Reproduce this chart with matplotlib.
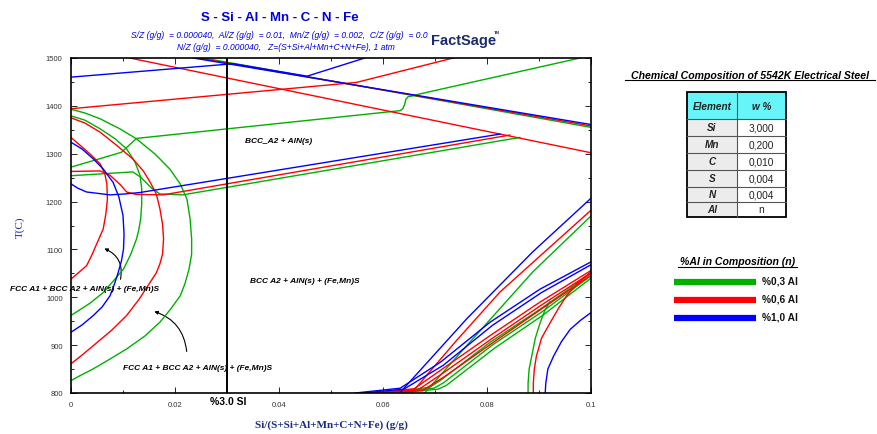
import matplotlib.pyplot as plt
from matplotlib.patches import Rectangle, FancyArrowPatch
from matplotlib.ticker import MultipleLocator, FixedLocator, FixedFormatter

plt.rcParams['font.family'] = ['Liberation Sans', 'DejaVu Sans']

GREEN, RED, BLUE = '#00b000', '#ff0000', '#0000ff'
NAVY = '#1a2a86'

# ---- 0.3 % Al (green): x = Si mass fraction, t = temperature (C) ----
g_top_x = [0.0255, 0.1]
g_top_t = [1500, 1355]
g_arc_outer_x = [0, 0.0027, 0.0056, 0.0094, 0.0126, 0.0162, 0.0190, 0.0210, 0.0223, 0.0229, 0.0232,
                 0.0232, 0.0227, 0.0219, 0.0210, 0.0192, 0.0171, 0.0142, 0.0107, 0.0075, 0.0042, 0.0017, 0]
g_arc_outer_t = [1393, 1385, 1373, 1352, 1331, 1299, 1268, 1237, 1205, 1164, 1122,
                 1090, 1059, 1028, 1003, 976, 948, 919, 892, 871, 850, 836, 826]
g_arc_inner_x = [0, 0.0027, 0.0056, 0.0085, 0.0107, 0.0123, 0.0133, 0.0136, 0.0136, 0.0134, 0.0130,
                 0.0126, 0.0115, 0.0101, 0.0083, 0.0062, 0.0037, 0]
g_arc_inner_t = [1379, 1370, 1352, 1331, 1310, 1283, 1254, 1226, 1195, 1164, 1139,
                 1122, 1090, 1059, 1036, 1010, 988, 962]
g_rise_x = [0, 0.0063, 0.0097, 0.0107, 0.0117, 0.0126, 0.0633, 0.0638, 0.0642, 0.0644, 0.0648,
            0.0658, 0.0671, 0.0979]
g_rise_t = [1272, 1292, 1303, 1313, 1323, 1332, 1390, 1394, 1404, 1414, 1419,
            1421, 1425, 1500]
g_low_x = [0, 0.0119, 0.0135, 0.0155, 0.0171, 0.0215, 0.0863]
g_low_t = [1254, 1262, 1250, 1228, 1216, 1214, 1334]
g_band1_x = [0.0604, 0.0690, 0.0710, 0.0806, 0.0902, 0.1]
g_band1_t = [800, 812, 826, 906, 975, 1050]
g_band2_x = [0.0614, 0.0698, 0.0716, 0.0810, 0.0905, 0.1]
g_band2_t = [800, 810, 821, 900, 969, 1045]
g_band3_x = [0.0624, 0.0706, 0.0722, 0.0815, 0.0908, 0.1]
g_band3_t = [800, 808, 816, 894, 963, 1040]
g_upper_x = [0.0680, 0.0761, 0.0888, 0.1]
g_upper_t = [800, 899, 1053, 1170]
g_corner_x = [0.0879, 0.0879, 0.0881, 0.0886, 0.0893, 0.0902, 0.0911, 0.0921]
g_corner_t = [800, 820, 850, 877, 915, 946, 972, 991]

# ---- 0.6 % Al (red) ----
r_top_x = [0.0245, 0.1]
r_top_t = [1500, 1358]
r_rise_x = [0, 0.0549, 0.0735]
r_rise_t = [1394, 1449, 1500]
r_fall_x = [0.0113, 0.1]
r_fall_t = [1500, 1302]
r_arc_outer_x = [0, 0.0027, 0.0056, 0.0085, 0.0119, 0.0139, 0.0152, 0.0164, 0.0171, 0.0176, 0.0178,
                 0.0176, 0.0171, 0.0164, 0.0152, 0.0131, 0.0107, 0.0079, 0.0043, 0.0021, 0]
r_arc_outer_t = [1375, 1364, 1345, 1320, 1289, 1264, 1241, 1216, 1185, 1153, 1122,
                 1090, 1070, 1051, 1031, 996, 962, 932, 899, 879, 861]
r_arc_inner_x = [0, 0.0017, 0.0037, 0.0056, 0.0065, 0.0069, 0.0070, 0.0067, 0.0062, 0.0052, 0.0040,
                 0.0030, 0.0014, 0]
r_arc_inner_t = [1334, 1318, 1299, 1279, 1258, 1237, 1205, 1174, 1143, 1118, 1088,
                 1066, 1051, 1038]
r_low_x = [0, 0.0056, 0.0075, 0.0095, 0.0107, 0.0125, 0.0177, 0.0844]
r_low_t = [1263, 1264, 1255, 1235, 1220, 1215, 1214, 1339]
r_band1_x = [0.0585, 0.0660, 0.0710, 0.0806, 0.0902, 0.1]
r_band1_t = [800, 809, 847, 920, 990, 1056]
r_band2_x = [0.0595, 0.0668, 0.0716, 0.0810, 0.0905, 0.1]
r_band2_t = [800, 807, 842, 914, 984, 1051]
r_band3_x = [0.0605, 0.0676, 0.0722, 0.0815, 0.0908, 0.1]
r_band3_t = [800, 805, 837, 908, 978, 1046]
r_upper_x = [0.0655, 0.0740, 0.0825, 0.1]
r_upper_t = [800, 908, 1011, 1182]
r_corner_x = [0.0889, 0.0889, 0.0891, 0.0895, 0.0905, 0.0921, 0.0937, 0.0953, 0.0975, 0.1]
r_corner_t = [800, 820, 850, 877, 915, 946, 976, 1003, 1030, 1053]

# ---- 1.0 % Al (blue) ----
b_top_x = [0.0235, 0.1]
b_top_t = [1500, 1361]
b_left_x = [0, 0.0312, 0.0454, 0.0565]
b_left_t = [1460, 1488, 1462, 1500]
b_arc_x = [0, 0.0021, 0.0043, 0.0062, 0.0081, 0.0092, 0.0100, 0.0102, 0.0101, 0.0097, 0.0090,
           0.0083, 0.0075, 0.0060, 0.0043, 0.0021, 0]
b_arc_t = [1324, 1310, 1289, 1268, 1240, 1210, 1171, 1132, 1101, 1076, 1049,
           1026, 1003, 980, 962, 942, 927]
b_low_x = [0, 0.0013, 0.0030, 0.0075, 0.0105, 0.0133, 0.0825]
b_low_t = [1237, 1228, 1220, 1214, 1216, 1219, 1341]
b_band1_x = [0.0547, 0.0633, 0.0710, 0.0806, 0.0902, 0.1]
b_band1_t = [800, 810, 864, 948, 1017, 1074]
b_band2_x = [0.0560, 0.0640, 0.0716, 0.0810, 0.0905, 0.1]
b_band2_t = [800, 808, 858, 941, 1010, 1068]
b_upper_x = [0.0632, 0.0761, 0.0888, 0.1]
b_upper_t = [800, 955, 1095, 1207]
b_corner_x = [0.0912, 0.0913, 0.0917, 0.0928, 0.0943, 0.0960, 0.0980, 0.1]
b_corner_t = [800, 820, 850, 877, 907, 933, 952, 968]

green_lines = [(g_top_x, g_top_t), (g_arc_outer_x, g_arc_outer_t), (g_arc_inner_x, g_arc_inner_t),
               (g_rise_x, g_rise_t), (g_low_x, g_low_t), (g_band1_x, g_band1_t),
               (g_band2_x, g_band2_t), (g_band3_x, g_band3_t), (g_upper_x, g_upper_t),
               (g_corner_x, g_corner_t)]
red_lines = [(r_top_x, r_top_t), (r_rise_x, r_rise_t), (r_fall_x, r_fall_t),
             (r_arc_outer_x, r_arc_outer_t), (r_arc_inner_x, r_arc_inner_t),
             (r_low_x, r_low_t), (r_band1_x, r_band1_t), (r_band2_x, r_band2_t),
             (r_band3_x, r_band3_t), (r_upper_x, r_upper_t), (r_corner_x, r_corner_t)]
blue_lines = [(b_top_x, b_top_t), (b_left_x, b_left_t), (b_arc_x, b_arc_t), (b_low_x, b_low_t),
              (b_band1_x, b_band1_t), (b_band2_x, b_band2_t), (b_upper_x, b_upper_t),
              (b_corner_x, b_corner_t)]

si_mark = 0.03
x_ticks = [0, 0.02, 0.04, 0.06, 0.08, 0.1]
x_tick_labels = ['0', '0.02', '0.04', '0.06', '0.08', '0.1']
y_ticks = [800, 900, 1000, 1100, 1200, 1300, 1400, 1500]

elements = ['Si', 'Mn', 'C', 'S', 'N', 'Al']
weights = ['3,000', '0,200', '0,010', '0,004', '0,004', 'n']
al_labels = ['%0,3 Al', '%0,6 Al', '%1,0 Al']
al_colors = [GREEN, RED, BLUE]

W, H = 877, 435
fig = plt.figure(figsize=(W / 100, H / 100), dpi=100)
ax = fig.add_axes([71 / W, 1 - 394 / H, 520 / W, 335 / H])

for col, lines in ((GREEN, green_lines), (RED, red_lines), (BLUE, blue_lines)):
    for xs, ts in lines:
        ax.plot(xs, ts, color=col, lw=1.0, solid_joinstyle='round')

ax.axvline(si_mark, color='black', lw=1.4)

ax.set_xlim(0, 0.1)
ax.set_ylim(800, 1500)
ax.xaxis.set_major_locator(FixedLocator(x_ticks))
ax.xaxis.set_major_formatter(FixedFormatter(x_tick_labels))
ax.xaxis.set_minor_locator(MultipleLocator(0.01))
ax.yaxis.set_major_locator(FixedLocator(y_ticks))
ax.yaxis.set_minor_locator(MultipleLocator(50))
ax.tick_params(which='both', direction='in', top=True, right=True, width=0.6,
               labelsize=5.5, labelcolor='#333333', pad=6)
ax.tick_params(which='major', length=4)
ax.tick_params(which='minor', length=2)
for s in ax.spines.values():
    s.set_linewidth(1.2)

# phase field labels
lab = dict(fontsize=6.0, fontweight='bold', style='italic', color='black')
ax.text(0.0335, 1327, 'BCC_A2 + AlN(s)', va='center', **lab)
ax.text(0.0344, 1035, 'BCC A2 + AlN(s) + (Fe,Mn)S', va='center', **lab)
ax.text(-0.0117, 1019, 'FCC A1 + BCC A2 + AlN(s) + (Fe,Mn)S', va='center', clip_on=False, **lab)
ax.text(0.0100, 854, 'FCC A1 + BCC A2 + AlN(s) + (Fe,Mn)S', va='center', **lab)
ax.add_patch(FancyArrowPatch((0.0094, 1032), (0.0059, 1104), connectionstyle='arc3,rad=0.45',
                             arrowstyle='-|>', mutation_scale=5, lw=0.8, color='black'))
ax.add_patch(FancyArrowPatch((0.0223, 881), (0.0155, 972), connectionstyle='arc3,rad=0.35',
                             arrowstyle='-|>', mutation_scale=5, lw=0.8, color='black'))

# titles and axis labels (pixel-based overlay)
ov = fig.add_axes([0, 0, 1, 1], zorder=-1)
ov.set_xlim(0, W)
ov.set_ylim(H, 0)
ov.axis('off')

ov.text(280, 18, 'S - Si - Al - Mn - C - N - Fe', ha='center', va='center',
        fontsize=9.5, fontweight='bold', color='#0000dd')
ov.text(428, 35.5, 'S/Z (g/g)  = 0.000040,  Al/Z (g/g)  = 0.01,  Mn/Z (g/g)  = 0.002,  C/Z (g/g)  = 0.0',
        ha='right', va='center', fontsize=6.15, style='italic', color='#0000dd')
ov.text(395, 48, 'N/Z (g/g)  = 0.000040,   Z=(S+Si+Al+Mn+C+N+Fe), 1 atm',
        ha='right', va='center', fontsize=6.15, style='italic', color='#0000dd')
ov.text(431, 41, 'FactSage', ha='left', va='center', fontsize=10.5, fontweight='bold', color='#1b2b6e')
ov.text(494, 33, 'TM', ha='left', va='center', fontsize=3, fontweight='bold', color='#1b2b6e')

ov.text(20, 227, 'T(C)', rotation=90, ha='center', va='center', fontsize=8,
        family=['Liberation Serif', 'DejaVu Serif'], color=NAVY)
ov.text(331, 425, 'Si/(S+Si+Al+Mn+C+N+Fe) (g/g)', ha='center', va='center', fontsize=8,
        fontweight='bold', family=['Liberation Serif', 'DejaVu Serif'], color=NAVY)
ov.text(228, 402, '%3.0 SI', ha='center', va='center', fontsize=7.5, fontweight='bold', color='black')

# composition table
ov.text(750, 76, 'Chemical Composition of 5542K Electrical Steel', ha='center', va='center',
        fontsize=7.6, fontweight='heavy', style='italic', color='black')
ov.plot([625, 875], [81, 81], color='black', lw=0.8)

tx0, tx1, tx2 = 687, 737, 786
row_edges = [93, 120, 137, 154, 171, 188, 203, 218]
ov.add_patch(Rectangle((tx0, row_edges[0]), tx2 - tx0, row_edges[1] - row_edges[0],
                       facecolor='#66f5f8', edgecolor='none'))
for i in range(len(elements)):
    ov.add_patch(Rectangle((tx0, row_edges[i + 1]), tx1 - tx0, row_edges[i + 2] - row_edges[i + 1],
                           facecolor='#ececec', edgecolor='none'))
for y in row_edges[1:-1]:
    ov.plot([tx0, tx2], [y, y], color='#555555', lw=0.8)
ov.plot([tx1, tx1], [row_edges[0], row_edges[-1]], color='#555555', lw=0.8)
ov.add_patch(Rectangle((tx0, row_edges[0]), tx2 - tx0, row_edges[-1] - row_edges[0],
                       facecolor='none', edgecolor='black', lw=1.3))
hdr = dict(ha='center', va='center', fontsize=7.2, fontweight='bold', style='italic', color='#222222')
ov.text((tx0 + tx1) / 2, (row_edges[0] + row_edges[1]) / 2, 'Element', **hdr)
ov.text((tx1 + tx2) / 2, (row_edges[0] + row_edges[1]) / 2, 'w %', **hdr)
for i, (el, w) in enumerate(zip(elements, weights)):
    yc = (row_edges[i + 1] + row_edges[i + 2]) / 2
    ov.text((tx0 + tx1) / 2, yc, el, **hdr)
    ov.text((tx1 + tx2) / 2, yc, w, ha='center', va='center', fontsize=7.3, color='#222222')

# Al level key
ov.text(737.5, 262.5, '%Al in Composition (n)', ha='center', va='center',
        fontsize=7.6, fontweight='heavy', style='italic', color='black')
ov.plot([678, 797], [267.5, 267.5], color='black', lw=0.8)
for i, (lbl, col) in enumerate(zip(al_labels, al_colors)):
    y = 282.5 + 18 * i
    ov.plot([674, 756], [y, y], color=col, lw=4.5, solid_capstyle='butt')
    ov.text(762, y - 1, lbl, ha='left', va='center', fontsize=7.3, fontweight='bold', color='#111111')

fig.savefig('out.png', dpi=100)
